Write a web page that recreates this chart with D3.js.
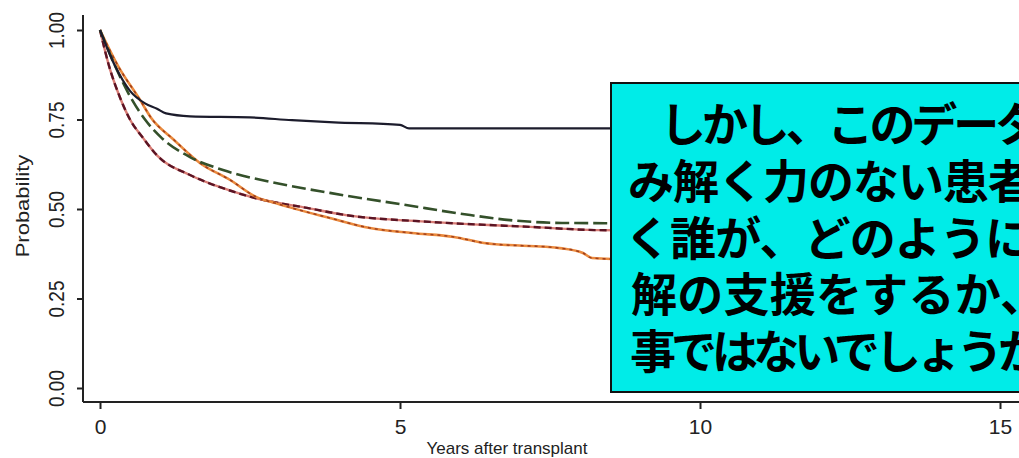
<!DOCTYPE html>
<html>
<head>
<meta charset="utf-8">
<script src="https://cdn.jsdelivr.net/npm/d3@7"></script>
<style>
  html, body { margin: 0; padding: 0; background: #fff; }
  svg { display: block; }
</style>
</head>
<body>
<svg id="chart" width="1019" height="458"></svg>
<script>
// ── Data ──────────────────────────────────────────────────────────────────────
const xTicks = [0, 5, 10, 15];
const yTicks = [0, 0.25, 0.5, 0.75, 1];

// [years, probability]
const solidCurve = [
  [0, 1], [0.25, 0.9], [0.5, 0.83], [0.75, 0.795], [0.95, 0.78], [1.1, 0.767],
  [1.5, 0.759], [2.5, 0.756], [3.2, 0.748], [3.9, 0.742], [5.0, 0.735],
  [5.15, 0.725], [9, 0.725],
];
const longDashCurve = [
  [0, 1], [0.25, 0.9], [0.5, 0.815], [0.75, 0.75], [1.03, 0.698], [1.5, 0.645],
  [2.05, 0.609], [2.95, 0.572], [3.83, 0.545], [5.1, 0.511], [6.17, 0.483],
  [6.83, 0.469], [7.7, 0.461], [9, 0.46],
];
const shortDashCurve = [
  [0, 1], [0.15, 0.9], [0.33, 0.813], [0.5, 0.75], [0.72, 0.698], [0.95, 0.65],
  [1.5, 0.595], [2.05, 0.558], [2.6, 0.53], [3.45, 0.503], [4.1, 0.483],
  [5.5, 0.464], [7.17, 0.45], [8.3, 0.441], [9, 0.44],
];
const dottedCurve = [
  [0, 1], [0.3, 0.9], [0.67, 0.804], [0.85, 0.755], [1.22, 0.695], [1.67, 0.628],
  [2.17, 0.581], [2.6, 0.534], [2.95, 0.515], [3.83, 0.475], [4.5, 0.447],
  [5.2, 0.433], [5.9, 0.422], [6.4, 0.405], [7.7, 0.39], [8.05, 0.377],
  [8.2, 0.363], [9, 0.358],
];

const calloutLines = [
  "しかし、このデータ",
  "み解く力のない患者",
  "く誰が、どのように",
  "解の支援をするか、",
  "事ではないでしょうか",
];

// ── Layout ────────────────────────────────────────────────────────────────────
const svg = d3.select("#chart");
const axisX = 83, axisY = 402;

const x = d3.scaleLinear().domain([0, 15]).range([100, 1000]);
const y = d3.scaleLinear().domain([0, 1]).range([388, 30]);

const tickFont = "'Liberation Sans', Arial, sans-serif";

// ── Axes ──────────────────────────────────────────────────────────────────────
const yAxis = svg.append("g").attr("transform", `translate(${axisX},0)`)
  .call(d3.axisLeft(y).tickValues(yTicks).tickFormat(d3.format(".2f"))
    .tickSize(6).tickSizeOuter(0));
yAxis.select(".domain").attr("d", `M0,15V${axisY}`).attr("stroke", "#222").attr("stroke-width", 2);
yAxis.selectAll(".tick line").attr("stroke", "#222").attr("stroke-width", 2);
yAxis.selectAll(".tick text")
  .attr("font-family", tickFont).attr("font-size", 19).attr("fill", "#222")
  .attr("x", null).attr("dy", null)
  .attr("text-anchor", "middle")
  .attr("transform", "translate(-19,0) rotate(-90) scale(1,1.15)");

const xAxis = svg.append("g").attr("transform", `translate(0,${axisY})`)
  .call(d3.axisBottom(x).tickValues(xTicks).tickSize(7).tickSizeOuter(0));
xAxis.select(".domain").attr("d", `M${axisX},0H1019`).attr("stroke", "#222").attr("stroke-width", 2);
xAxis.selectAll(".tick line").attr("stroke", "#222").attr("stroke-width", 2);
xAxis.selectAll(".tick text")
  .attr("font-family", tickFont).attr("font-size", 21).attr("fill", "#222")
  .attr("y", 17);

svg.append("text")
  .attr("x", 507).attr("y", 454)
  .attr("text-anchor", "middle")
  .attr("font-family", tickFont).attr("font-size", 17).attr("fill", "#222")
  .text("Years after transplant");

svg.append("text")
  .attr("transform", "translate(29,206) rotate(-90) scale(1,0.85)")
  .attr("text-anchor", "middle")
  .attr("font-family", tickFont).attr("font-size", 22).attr("fill", "#222")
  .text("Probability");

// ── Curves ────────────────────────────────────────────────────────────────────
const line = d3.line().x((d) => x(d[0])).y((d) => y(d[1])).curve(d3.curveMonotoneX);
const curves = svg.append("g").attr("fill", "none").attr("stroke-linecap", "butt");

curves.append("path").attr("d", line(shortDashCurve))
  .attr("stroke", "#c8443a").attr("stroke-width", 2.4).attr("opacity", 0.7);
curves.append("path").attr("d", line(shortDashCurve))
  .attr("stroke", "#5a1424").attr("stroke-width", 2.4).attr("stroke-dasharray", "7,4");

curves.append("path").attr("d", line(dottedCurve))
  .attr("stroke", "#ea8a3e").attr("stroke-width", 2.6);
curves.append("path").attr("d", line(dottedCurve))
  .attr("stroke", "#a2401c").attr("stroke-width", 1.6).attr("stroke-dasharray", "3,4");

curves.append("path").attr("d", line(longDashCurve))
  .attr("stroke", "#34502a").attr("stroke-width", 2.6).attr("stroke-dasharray", "14,5");

curves.append("path").attr("d", line(solidCurve))
  .attr("stroke", "#1c1c2c").attr("stroke-width", 2.2);

// ── Callout box ───────────────────────────────────────────────────────────────
svg.append("rect")
  .attr("x", 611).attr("y", 83).attr("width", 430).attr("height", 309)
  .attr("fill", "#00ece8").attr("stroke", "#111").attr("stroke-width", 2);

// one text block, one tspan per line
const lineStarts = [660, 628, 625, 631, 630];
const lineLengths = [381, 406, 406, 415, 414];
svg.append("text")
  .attr("font-family", "'Noto Sans CJK JP', sans-serif")
  .attr("font-weight", 700).attr("font-size", 46).attr("fill", "#000")
  .selectAll("tspan")
  .data(calloutLines)
  .join("tspan")
  .attr("x", (d, i) => lineStarts[i])
  .attr("y", (d, i) => 141 + i * 56.8)
  .attr("textLength", (d, i) => lineLengths[i])
  .attr("lengthAdjust", "spacing")
  .text((d) => d);
</script>
</body>
</html>
